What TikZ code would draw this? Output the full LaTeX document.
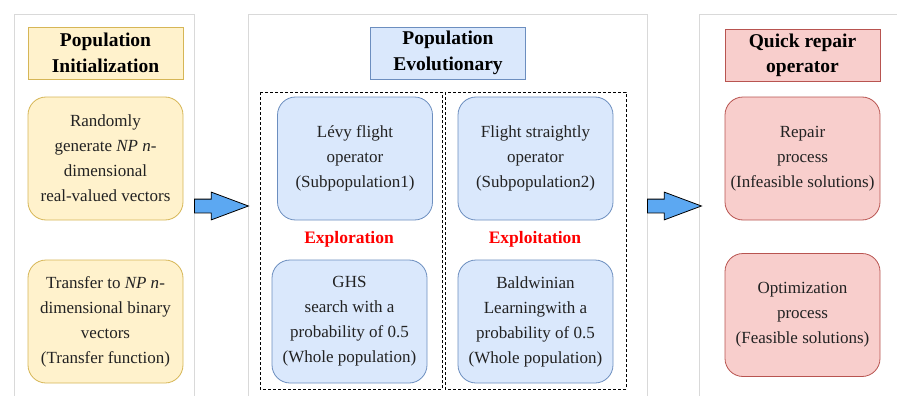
\documentclass[tikz,border=0pt]{standalone}
\usepackage{fontspec}
\setmainfont{Liberation Serif}
\usetikzlibrary{shapes.arrows}

\definecolor{yfill}{HTML}{FFF2CC}
\definecolor{ydraw}{HTML}{D6B656}
\definecolor{bfill}{HTML}{DAE8FC}
\definecolor{bdraw}{HTML}{6C8EBF}
\definecolor{rfill}{HTML}{F8CECC}
\definecolor{rdraw}{HTML}{B85450}
\definecolor{panelgray}{HTML}{D9D9D9}
\definecolor{arrowblue}{HTML}{5CA8F2}
\definecolor{bodytext}{HTML}{222222}

\begin{document}
\begin{tikzpicture}[x=1pt, y=-1pt, line width=0.8pt,
    title/.style = {draw, rectangle, minimum width=155, minimum height=52, inner sep=0, align=center, font=\fontsize{19.5}{25.5}\selectfont\bfseries},
    proc/.style = {draw, rounded corners=18pt, minimum width=155, minimum height=123, inner sep=0, align=center, text=bodytext, font=\fontsize{17}{25}\selectfont},
    yellowbox/.style = {fill=yfill, draw=ydraw},
    bluebox/.style = {fill=bfill, draw=bdraw},
    redbox/.style = {fill=rfill, draw=rdraw},
    phasetxt/.style = {text=red, font=\fontsize{17.5}{25}\selectfont\bfseries},
    panel/.style = {draw=panelgray},
    half/.style = {draw, dash pattern=on 3pt off 2pt},
    blockarrow/.style = {single arrow, draw=black, fill=arrowblue, minimum height=54, inner xsep=0, inner ysep=6.5, single arrow head extend=7, single arrow tip angle=41, anchor=tail}]
    \useasboundingbox (0,0) rectangle (897,396);

    % panels
    \draw[panel] (14,400) -- (14,14) -- (194,14) -- (194,400);
    \draw[panel] (248,400) -- (248,14) -- (647,14) -- (647,400);
    \draw[panel] (699,400) -- (699,14) -- (900,14);

    % population initialization
    \node [title, yellowbox] (inittitle) at (105.5,53) {Population\\Initialization};
    \node [proc, yellowbox] (randgen) at (105.5,158.5) {Randomly\\generate \textit{NP n}-\\dimensional\\real-valued vectors};
    \node [proc, yellowbox] (transfer) at (105.5,321.5) {Transfer to \textit{NP n}-\\dimensional binary\\vectors\\(Transfer function)};

    % population evolutionary
    \node [title, bluebox] (evotitle) at (448,53) {Population\\Evolutionary};
    \draw [half] (260,92) rectangle (442,389);
    \draw [half] (445,92) rectangle (626,389);
    \node [proc, bluebox] (levy) at (355,158.5) {Lévy flight\\operator\\(Subpopulation1)};
    \node [proc, bluebox] (straight) at (535.5,158.5) {Flight straightly\\operator\\(Subpopulation2)};
    \node [phasetxt] (explore) at (349,239) {Exploration};
    \node [phasetxt] (exploit) at (535,239) {Exploitation};
    \node [proc, bluebox] (ghs) at (349.5,321.5) {GHS\\search with a\\probability of 0.5\\(Whole population)};
    \node [proc, bluebox] (baldwin) at (535.5,321.5) {Baldwinian\\Learningwith a\\probability of 0.5\\(Whole population)};

    % quick repair operator
    \node [title, redbox] (repairtitle) at (802.5,55.5) {Quick repair\\operator};
    \node [proc, redbox] (repair) at (802.5,158.5) {Repair\\process\\(Infeasible solutions)};
    \node [proc, redbox] (optim) at (802.5,315) {Optimization\\process\\(Feasible solutions)};

    % arrows
    \node [blockarrow] (arrowin) at (194,206) {};
    \node [blockarrow] (arrowout) at (647,206) {};

\end{tikzpicture}
\end{document}
